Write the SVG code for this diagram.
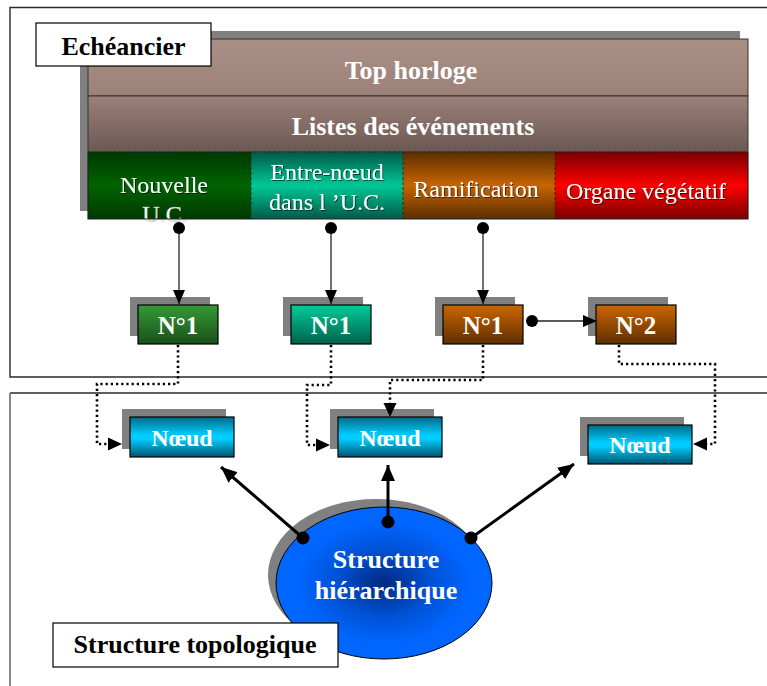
<svg xmlns="http://www.w3.org/2000/svg" width="767" height="686" viewBox="0 0 767 686">
<defs>
<style>
.frame{fill:none;stroke:#2a2a2a;stroke-width:1.4}
.shadow{fill:#808080}
.box{stroke:#000;stroke-width:1.2}
.lbl{fill:#fff;stroke:#000;stroke-width:1.2}
.t{font-family:"Liberation Serif","Times New Roman",serif;text-anchor:middle}
.tb{font-family:"Liberation Serif","Times New Roman",serif;font-weight:bold;text-anchor:middle}
.w{fill:#fff}
.k{fill:#000}
.thin{fill:none;stroke:#222;stroke-width:1.3}
.dot{fill:none;stroke:#000;stroke-width:2.6;stroke-dasharray:2.2 3}
.thick{fill:none;stroke:#000;stroke-width:3}
.sep{fill:none;stroke:#222;stroke-width:0.8;stroke-dasharray:3 2}
</style>
<linearGradient id="gTop" x1="0" y1="0" x2="0" y2="1"><stop offset="0" stop-color="#a98f86"/><stop offset="1" stop-color="#9b8178"/></linearGradient>
<linearGradient id="gList" x1="0" y1="0" x2="0" y2="1"><stop offset="0" stop-color="#9b8179"/><stop offset="1" stop-color="#6b5853"/></linearGradient>
<linearGradient id="gGreen" x1="0" y1="0" x2="0" y2="1"><stop offset="0" stop-color="#003800"/><stop offset="0.5" stop-color="#006400"/><stop offset="1" stop-color="#003800"/></linearGradient>
<linearGradient id="gTeal" x1="0" y1="0" x2="0" y2="1"><stop offset="0" stop-color="#005a48"/><stop offset="0.5" stop-color="#00c896"/><stop offset="1" stop-color="#005a48"/></linearGradient>
<linearGradient id="gOrange" x1="0" y1="0" x2="0" y2="1"><stop offset="0" stop-color="#5a2e00"/><stop offset="0.5" stop-color="#c86400"/><stop offset="1" stop-color="#5a2e00"/></linearGradient>
<linearGradient id="gRed" x1="0" y1="0" x2="0" y2="1"><stop offset="0" stop-color="#7a0000"/><stop offset="0.5" stop-color="#ff0000"/><stop offset="1" stop-color="#7a0000"/></linearGradient>
<linearGradient id="nGreen" x1="0" y1="0" x2="0" y2="1"><stop offset="0" stop-color="#359a35"/><stop offset="1" stop-color="#1a501a"/></linearGradient>
<linearGradient id="nTeal" x1="0" y1="0" x2="0" y2="1"><stop offset="0" stop-color="#00cc99"/><stop offset="1" stop-color="#00614d"/></linearGradient>
<linearGradient id="nOrange" x1="0" y1="0" x2="0" y2="1"><stop offset="0" stop-color="#cc6600"/><stop offset="1" stop-color="#5e2f00"/></linearGradient>
<linearGradient id="nCyan" x1="0" y1="0" x2="0" y2="1"><stop offset="0" stop-color="#006a88"/><stop offset="0.45" stop-color="#00ccff"/><stop offset="0.55" stop-color="#00ccff"/><stop offset="1" stop-color="#005470"/></linearGradient>
<radialGradient id="gBlue" cx="0.5" cy="0.5" r="0.5"><stop offset="0" stop-color="#002a80"/><stop offset="0.45" stop-color="#0052d6"/><stop offset="0.8" stop-color="#0066ff"/><stop offset="1" stop-color="#0066ff"/></radialGradient>
<filter id="ds" x="-10%" y="-20%" width="120%" height="140%"><feDropShadow dx="1" dy="1" stdDeviation="0.4" flood-color="#000" flood-opacity="0.6"/></filter>
<marker id="ah" markerUnits="userSpaceOnUse" viewBox="0 0 14 12" refX="14" refY="6" markerWidth="14" markerHeight="12" orient="auto"><path d="M0,0 L14,6 L0,12 z" fill="#000"/></marker>
<marker id="ahb" markerUnits="userSpaceOnUse" viewBox="0 0 16 14" refX="16" refY="7" markerWidth="16" markerHeight="14" orient="auto"><path d="M0,0 L16,7 L0,14 z" fill="#000"/></marker>
</defs>
<rect width="767" height="686" fill="#fff"/>

<g id="frames">
<path class="frame" d="M780,7.5 H10 V377 H780"/>
<path class="frame" d="M780,393 H10"/>
<path d="M10,393 V700" fill="none" stroke="#888" stroke-width="2"/>
</g>

<g id="echeancier-block">
<rect class="shadow" x="80" y="31" width="660" height="180"/>
<rect x="88" y="39" width="660" height="57" fill="url(#gTop)" stroke="#333" stroke-width="1"/>
<rect x="88" y="96" width="660" height="56" fill="url(#gList)" stroke="#333" stroke-width="1"/>
<text class="tb w" x="411" y="79" font-size="26">Top horloge</text>
<text class="tb w" x="413" y="135" font-size="26">Listes des événements</text>
</g>

<g id="cell-nouvelle">
<rect x="88" y="152" width="163" height="67" fill="url(#gGreen)"/>
<text class="t w" x="164" y="193" font-size="24" filter="url(#ds)">Nouvelle</text>
<text class="t w" x="165" y="222" font-size="24" stroke="#bbb" stroke-width="0.5">U.C.</text>
</g>
<g id="cell-entre-noeud">
<rect x="251" y="152" width="152" height="67" fill="url(#gTeal)"/>
<text class="t w" x="327" y="180" font-size="24" filter="url(#ds)">Entre-nœud</text>
<text class="t w" x="327" y="210" font-size="24" filter="url(#ds)">dans l ’U.C.</text>
</g>
<g id="cell-ramification">
<rect x="403" y="152" width="152" height="67" fill="url(#gOrange)"/>
<text class="t w" x="476" y="197" font-size="24" filter="url(#ds)">Ramification</text>
</g>
<g id="cell-organe">
<rect x="555" y="152" width="193" height="67" fill="url(#gRed)"/>
<text class="t w" x="646" y="199" font-size="24" filter="url(#ds)">Organe végétatif</text>
</g>
<g id="cell-borders">
<path class="sep" d="M88,152 H748 M251,152 V219 M403,152 V219 M555,152 V219"/>
<path d="M88,152 V219 H748 V152" fill="none" stroke="#222" stroke-width="1.2"/>
</g>

<g id="label-echeancier">
<rect class="lbl" x="36" y="23" width="175" height="43"/>
<text class="tb k" x="123.5" y="55" font-size="26">Echéancier</text>
</g>

<g id="n1-green">
<rect class="shadow" x="130" y="297" width="80" height="39"/>
<rect class="box" x="138" y="305" width="80" height="39" fill="url(#nGreen)"/>
<text class="tb w" x="178" y="334" font-size="25">N°1</text>
</g>
<g id="n1-teal">
<rect class="shadow" x="283" y="297" width="80" height="39"/>
<rect class="box" x="291" y="305" width="80" height="39" fill="url(#nTeal)"/>
<text class="tb w" x="331" y="334" font-size="25">N°1</text>
</g>
<g id="n1-orange">
<rect class="shadow" x="435" y="297" width="80" height="39"/>
<rect class="box" x="443" y="305" width="80" height="39" fill="url(#nOrange)"/>
<text class="tb w" x="483" y="334" font-size="25">N°1</text>
</g>
<g id="n2-orange">
<rect class="shadow" x="588" y="297" width="80" height="39"/>
<rect class="box" x="596" y="305" width="80" height="39" fill="url(#nOrange)"/>
<text class="tb w" x="636" y="334" font-size="25">N°2</text>
</g>

<g id="noeud-1">
<rect class="shadow" x="122" y="409" width="104" height="40"/>
<rect class="box" x="130" y="417" width="104" height="40" fill="url(#nCyan)"/>
<text class="tb w" x="182" y="446" font-size="24">Nœud</text>
</g>
<g id="noeud-2">
<rect class="shadow" x="330" y="409" width="104" height="40"/>
<rect class="box" x="338" y="417" width="104" height="40" fill="url(#nCyan)"/>
<text class="tb w" x="390" y="446" font-size="24">Nœud</text>
</g>
<g id="noeud-3">
<rect class="shadow" x="580" y="417" width="104" height="39"/>
<rect class="box" x="588" y="425" width="104" height="39" fill="url(#nCyan)"/>
<text class="tb w" x="640" y="453" font-size="24">Nœud</text>
</g>

<g id="structure-hierarchique">
<ellipse cx="376" cy="575" rx="108" ry="76" fill="#808080"/>
<ellipse cx="384" cy="583" rx="108" ry="76" fill="url(#gBlue)" stroke="#000" stroke-width="1"/>
<text class="tb w" x="386" y="568" font-size="26">Structure</text>
<text class="tb w" x="386" y="599" font-size="26">hiérarchique</text>
</g>

<g id="label-structure-topologique">
<rect class="lbl" x="53" y="623" width="285" height="44"/>
<text class="tb k" x="195" y="653" font-size="26">Structure topologique</text>
</g>

<g id="connectors">
<path class="thin" d="M179,228 V304" marker-end="url(#ah)"/>
<path class="thin" d="M331,228 V304" marker-end="url(#ah)"/>
<path class="thin" d="M483,228 V304" marker-end="url(#ah)"/>
<path class="thin" d="M532,321 H597" marker-end="url(#ah)"/>
<circle cx="179" cy="228" r="6"/>
<circle cx="331" cy="228" r="6"/>
<circle cx="483" cy="228" r="6"/>
<circle cx="532" cy="321" r="6"/>
<path class="dot" d="M178,345 V384 H97 V444 H109"/>
<path d="M108,437.5 L122,444 L108,450.5 z"/>
<path class="dot" d="M331,345 V385 H307 V445 H317"/>
<path d="M316,438.5 L330,445 L316,451.5 z"/>
<path class="dot" d="M483,345 V380 H390 V404"/>
<path d="M383.5,403 L390,417 L396.5,403 z"/>
<path class="dot" d="M619,345 V364 H715 V444 H706"/>
<path d="M707,437.5 L693,444 L707,450.5 z"/>
<path class="thick" d="M303,538 L221,467" marker-end="url(#ahb)"/>
<path class="thick" d="M388,522 V465" stroke-width="4" marker-end="url(#ahb)"/>
<path class="thick" d="M471,538 L574,464" marker-end="url(#ahb)"/>
<circle cx="303" cy="538" r="6.5"/>
<circle cx="388" cy="522" r="6.5"/>
<circle cx="471" cy="538" r="6.5"/>
</g>
</svg>
